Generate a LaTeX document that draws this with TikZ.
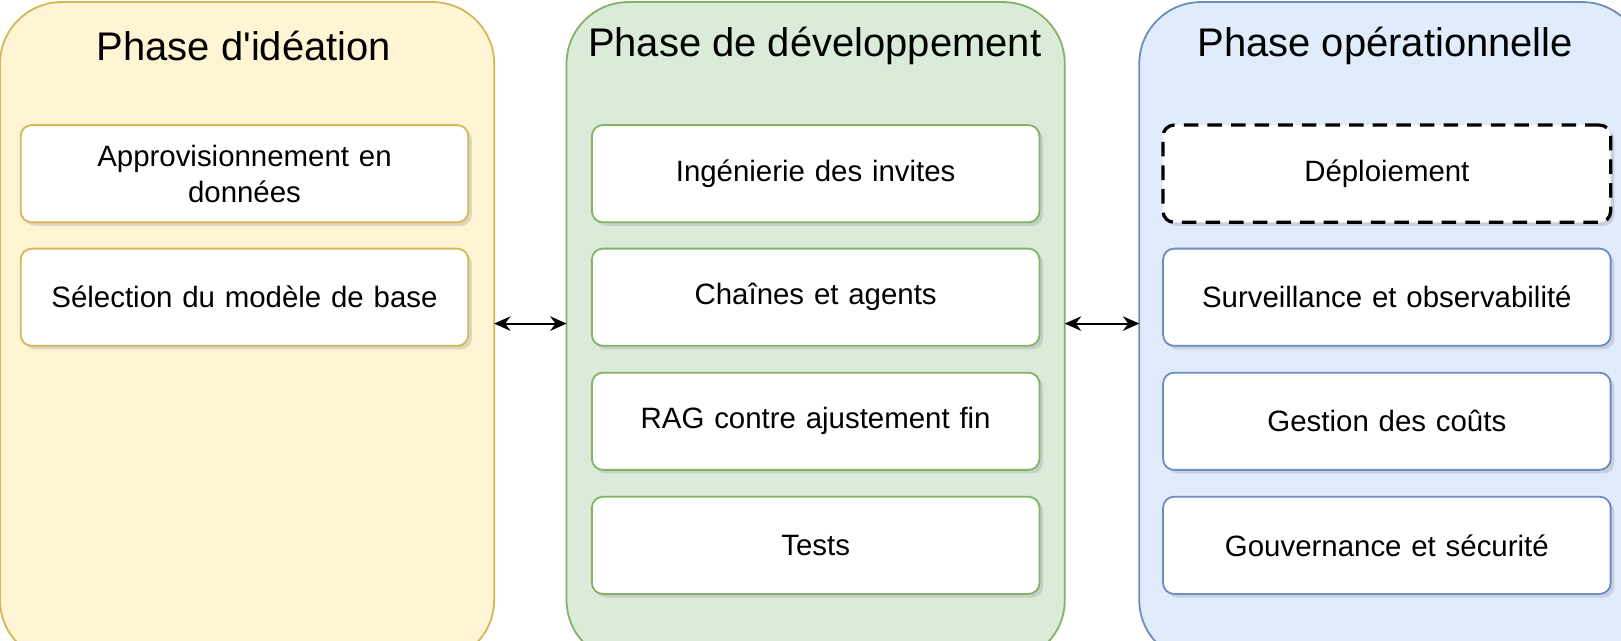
\documentclass[tikz,border=0pt]{standalone}
\usepackage{fontspec}
\setmainfont{Liberation Sans}
\usetikzlibrary{shadows,arrows.meta}
\definecolor{ylwfill}{HTML}{FFF2CC}\definecolor{ylwline}{HTML}{D6B656}
\definecolor{grnfill}{HTML}{D5E8D4}\definecolor{grnline}{HTML}{82B366}
\definecolor{blufill}{HTML}{DAE8FC}\definecolor{bluline}{HTML}{6C8EBF}
\tikzset{
  phase/.style={draw=#1line, fill=#1fill!85!white, line width=1pt, rounded corners=34pt},
  title/.style={font=\fontsize{22}{26}\selectfont, anchor=center},
  step/.style={draw=#1line, fill=white, line width=1pt, rounded corners=6pt,
    minimum width=8.66cm, minimum height=1.88cm, align=center, text width=8.2cm,
    font=\fontsize{16.2}{20}\selectfont,
    drop shadow={shadow xshift=2pt, shadow yshift=-2pt, opacity=0.25}},
  link/.style={{Stealth[length=9pt,width=8pt]}-{Stealth[length=9pt,width=8pt]}, line width=1.2pt}
}
\begin{document}
\begin{tikzpicture}[x=0.02cm, y=-0.02cm]
  \useasboundingbox (0,0) rectangle (1568,620);
  \draw[phase=ylw] (0,2) rectangle (478,640);
  \draw[phase=grn] (548,2) rectangle (1030,640);
  \draw[phase=blu] (1102,2) rectangle (1590,640);
  \node[title] (tideation) at (236,44) {Phase d\textquotesingle idéation};
  \node[title] (tdev) at (788,44) {Phase de développement};
  \node[title] (tops) at (1340,44) {Phase opérationnelle};
  % ideation
  \node[step=ylw] (sourcing) at (236.5,168) {Approvisionnement en\\données};
  \node[step=ylw] (model) at (236.5,287.5) {Sélection du modèle de base};
  % development
  \node[step=grn] (prompt) at (789,168) {Ingénierie des invites};
  \node[step=grn] (chains) at (789,287.5) {Chaînes et agents};
  \node[step=grn] (rag) at (789,407.5) {RAG contre ajustement fin};
  \node[step=grn] (tests) at (789,527.5) {Tests};
  % operations
  \node[step=blu, draw=black, line width=1.8pt, dash pattern=on 8pt off 5pt] (deploy) at (1341.5,168) {Déploiement};
  \node[step=blu] (monitor) at (1341.5,287.5) {Surveillance et observabilité};
  \node[step=blu] (cost) at (1341.5,407.5) {Gestion des coûts};
  \node[step=blu] (govern) at (1341.5,527.5) {Gouvernance et sécurité};
  % links
  \coordinate (a1) at (478,313); \coordinate (a2) at (548,313);
  \coordinate (b1) at (1030,313); \coordinate (b2) at (1102,313);
  \draw[link] (a1) -- (a2);
  \draw[link] (b1) -- (b2);
\end{tikzpicture}
\end{document}
